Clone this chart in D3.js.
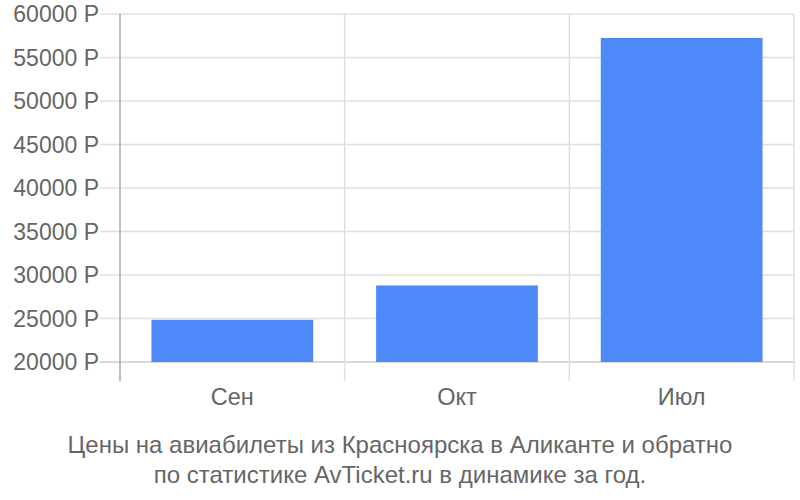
<!DOCTYPE html>
<html>
<head>
<meta charset="utf-8">
<script src="https://cdn.jsdelivr.net/npm/d3@7"></script>
<style>
  body { margin: 0; background: #fff; }
  text { font-family: "Liberation Sans", Arial, sans-serif; fill: #666; }
</style>
</head>
<body>
<svg id="chart"></svg>
<script>
const months = ["Сен", "Окт", "Июл"];
const prices = [24850, 28800, 57250];
const yTicks = [20000, 25000, 30000, 35000, 40000, 45000, 50000, 55000, 60000];
const titleLines = [
    "Цены на авиабилеты из Красноярска в Аликанте и обратно",
    "по статистике AvTicket.ru в динамике за год."
];

const W = 800, H = 500;
const margin = { top: 14, right: 6, bottom: 138, left: 120 };
const width = W - margin.left - margin.right;
const height = H - margin.top - margin.bottom;

const svg = d3.select("#chart")
    .attr("width", W)
    .attr("height", H);

const g = svg.append("g")
    .attr("transform", `translate(${margin.left},${margin.top})`);

const x = d3.scaleBand()
    .domain(months)
    .range([0, width]);

const y = d3.scaleLinear()
    .domain([20000, 60000])
    .range([height, 0]);

// horizontal grid
g.selectAll(".hgrid")
    .data(yTicks)
    .enter().append("line")
    .attr("x1", -20)
    .attr("x2", width)
    .attr("y1", d => y(d))
    .attr("y2", d => y(d))
    .attr("stroke", d => d === 20000 ? "#ccc" : "#e0e0e0")
    .attr("stroke-width", 1.5);

// vertical grid + ticks below
const edges = months.map(m => x(m)).concat([width]);
g.selectAll(".vgrid")
    .data(edges)
    .enter().append("line")
    .attr("x1", d => d)
    .attr("x2", d => d)
    .attr("y1", 0)
    .attr("y2", height + 19)
    .attr("stroke", (d, i) => i === 0 ? "#aaa" : "#e0e0e0")
    .attr("stroke-width", 1.5);

// bars
const bw = x.bandwidth();
g.selectAll(".bar")
    .data(prices)
    .enter().append("rect")
    .attr("x", (d, i) => x(months[i]) + bw * 0.14)
    .attr("width", bw * 0.72)
    .attr("y", d => y(d))
    .attr("height", d => height - y(d))
    .attr("fill", "#4d89f9");

// y labels
g.selectAll(".ylab")
    .data(yTicks)
    .enter().append("text")
    .attr("x", -21)
    .attr("y", d => y(d))
    .attr("dy", "0.35em")
    .attr("text-anchor", "end")
    .style("font-size", "23px")
    .text(d => d + " Р");

// x labels
g.selectAll(".xlab")
    .data(months)
    .enter().append("text")
    .attr("x", d => x(d) + bw / 2)
    .attr("y", height + 43)
    .attr("text-anchor", "middle")
    .style("font-size", "23.5px")
    .text(d => d);

// title
svg.selectAll(".title")
    .data(titleLines)
    .enter().append("text")
    .attr("x", 400)
    .attr("y", (d, i) => 453 + i * 30)
    .attr("text-anchor", "middle")
    .style("font-size", "24px")
    .text(d => d);
</script>
</body>
</html>
